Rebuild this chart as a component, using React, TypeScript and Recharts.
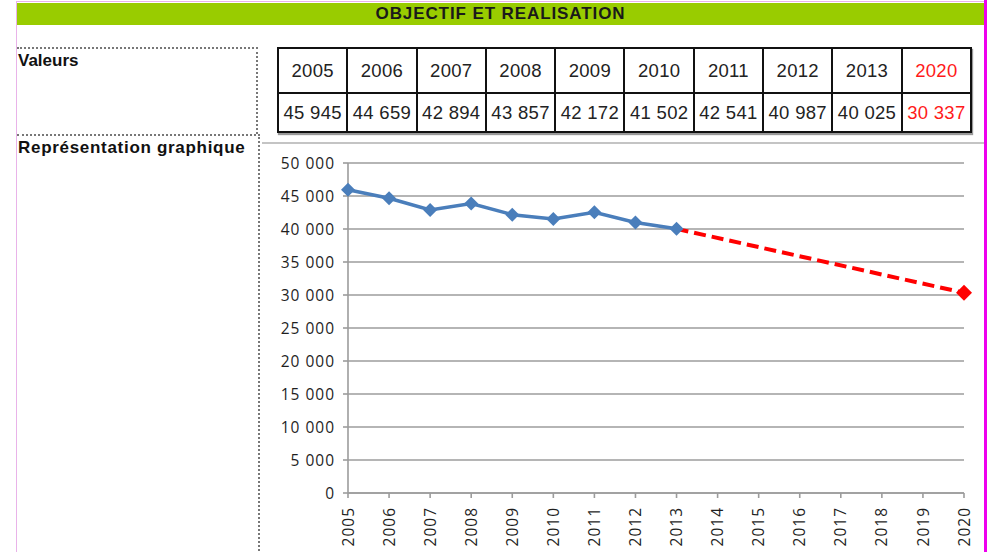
import { LineChart, Line, XAxis, YAxis, CartesianGrid } from 'recharts';

// table values
const tableYears = ['2005', '2006', '2007', '2008', '2009', '2010', '2011', '2012', '2013', '2020'];
const tableValues = ['45 945', '44 659', '42 894', '43 857', '42 172', '41 502', '42 541', '40 987', '40 025', '30 337'];

// chart
const years = ['2005', '2006', '2007', '2008', '2009', '2010', '2011', '2012', '2013', '2014', '2015', '2016', '2017', '2018', '2019', '2020'];
const realise = [45945, 44659, 42894, 43857, 42172, 41502, 42541, 40987, 40025, null, null, null, null, null, null, null];
const objectif = [null, null, null, null, null, null, null, null, 40025, null, null, null, null, null, null, 30337];
const yTicks = [0, 5000, 10000, 15000, 20000, 25000, 30000, 35000, 40000, 45000, 50000];

const chartData = years.map((y, i) => ({ year: y, realise: realise[i], objectif: objectif[i] }));

const fmt = (n: number) => String(n).replace(/\B(?=(\d{3})+(?!\d))/g, ' ');

const Diamond = ({ cx, cy, r, fill }: any) => (
    <polygon points={`${cx},${cy - r} ${cx + r},${cy} ${cx},${cy + r} ${cx - r},${cy}`} fill={fill} />
);

const blueDot = (props: any) => {
    if (props.value == null) return <g key={props.index} />;
    return <Diamond key={props.index} cx={props.cx} cy={props.cy} r={7} fill="#4a7ebb" />;
};

const redDot = (props: any) => {
    if (props.value == null || props.index !== years.length - 1) return <g key={props.index} />;
    return <Diamond key={props.index} cx={props.cx} cy={props.cy} r={8} fill="#ff0000" />;
};

const YearTick = ({ x, y, payload }: any) => (
    <g transform={`translate(${x},${y})`}>
        <text transform="rotate(-90)" x={-7} y={0} dy="0.36em" textAnchor="end"
            fontFamily="'Open Sans'" fontSize={15.5} letterSpacing={1} fill="#1f1f1f">
            {payload.value}
        </text>
    </g>
);

const cell: any = {
    border: '2px solid #111',
    textAlign: 'center',
    padding: 0,
    fontSize: 18.5,
    letterSpacing: 0.3,
    color: '#222',
};

const dotted = '2px dotted #777';

export default function App() {
    return (
        <div style={{ position: 'absolute', left: 0, top: 0, width: 988, height: 552, background: '#fff', overflow: 'hidden', fontFamily: "'Liberation Sans', Arial, sans-serif" }}>
            {/* page borders */}
            <div style={{ position: 'absolute', left: 17, top: 1, width: 970, height: 1, background: '#e9b3e9' }} />
            <div style={{ position: 'absolute', left: 16, top: 1, width: 1, height: 551, background: '#e9b3e9' }} />
            <div style={{ position: 'absolute', left: 984, top: 0, width: 3, height: 552, background: '#ee00ee' }} />

            {/* header */}
            <div style={{ position: 'absolute', left: 17, top: 3, width: 967, height: 22, background: '#99cc00', textAlign: 'center', fontWeight: 'bold', fontSize: 17, lineHeight: '22px', letterSpacing: 0.9, color: '#1a1a1a' }}>
                OBJECTIF ET REALISATION
            </div>

            {/* left labels */}
            <div style={{ position: 'absolute', left: 17, top: 47, width: 241, height: 87, borderTop: dotted, borderRight: dotted, boxSizing: 'border-box' }} />
            <div style={{ position: 'absolute', left: 18, top: 51, fontWeight: 'bold', fontSize: 17, color: '#111' }}>Valeurs</div>
            <div style={{ position: 'absolute', left: 17, top: 134, width: 243, height: 420, borderTop: dotted, borderRight: dotted, boxSizing: 'border-box' }} />
            <div style={{ position: 'absolute', left: 18, top: 138, fontWeight: 'bold', fontSize: 17, letterSpacing: 0.7, color: '#111' }}>Représentation graphique</div>

            {/* values table */}
            <table style={{ position: 'absolute', left: 277, top: 47, width: 695, height: 84, borderCollapse: 'collapse', tableLayout: 'fixed', boxShadow: '1px 2px 1px #999' }}>
                <tbody>
                    <tr style={{ height: 45 }}>
                        {tableYears.map((y, i) => (
                            <td key={y} style={{ ...cell, color: i === tableYears.length - 1 ? '#ff1a1a' : '#222' }}>{y}</td>
                        ))}
                    </tr>
                    <tr style={{ height: 39 }}>
                        {tableValues.map((v, i) => (
                            <td key={i} style={{ ...cell, color: i === tableValues.length - 1 ? '#ff1a1a' : '#222' }}>{v}</td>
                        ))}
                    </tr>
                </tbody>
            </table>

            {/* chart frame */}
            <div style={{ position: 'absolute', left: 262, top: 142, width: 722, height: 2, background: '#c4c4c4' }} />

            <div style={{ position: 'absolute', left: 262, top: 143 }}>
                <LineChart width={726} height={409} data={chartData} margin={{ top: 20, right: 24, left: 0, bottom: 0 }}>
                    <CartesianGrid vertical={false} stroke="#9c9c9c" strokeWidth={1.6} />
                    <XAxis dataKey="year" interval={0} height={59} stroke="#9c9c9c" strokeWidth={1.6}
                        tickSize={5} tick={<YearTick />} />
                    <YAxis width={86} domain={[0, 50000]} ticks={yTicks} tickFormatter={fmt} stroke="#9c9c9c" strokeWidth={1.6}
                        tickSize={5} tickMargin={8}
                        tick={{ fill: '#1f1f1f', fontSize: 15.5, fontFamily: "'Open Sans'", letterSpacing: 1 }} />
                    <Line dataKey="objectif" stroke="#ff0000" strokeWidth={4} strokeDasharray="12 6" connectNulls
                        dot={redDot} activeDot={false} isAnimationActive={false} />
                    <Line dataKey="realise" stroke="#4a7ebb" strokeWidth={3.5} dot={blueDot} activeDot={false} isAnimationActive={false} />
                </LineChart>
            </div>
        </div>
    );
}
